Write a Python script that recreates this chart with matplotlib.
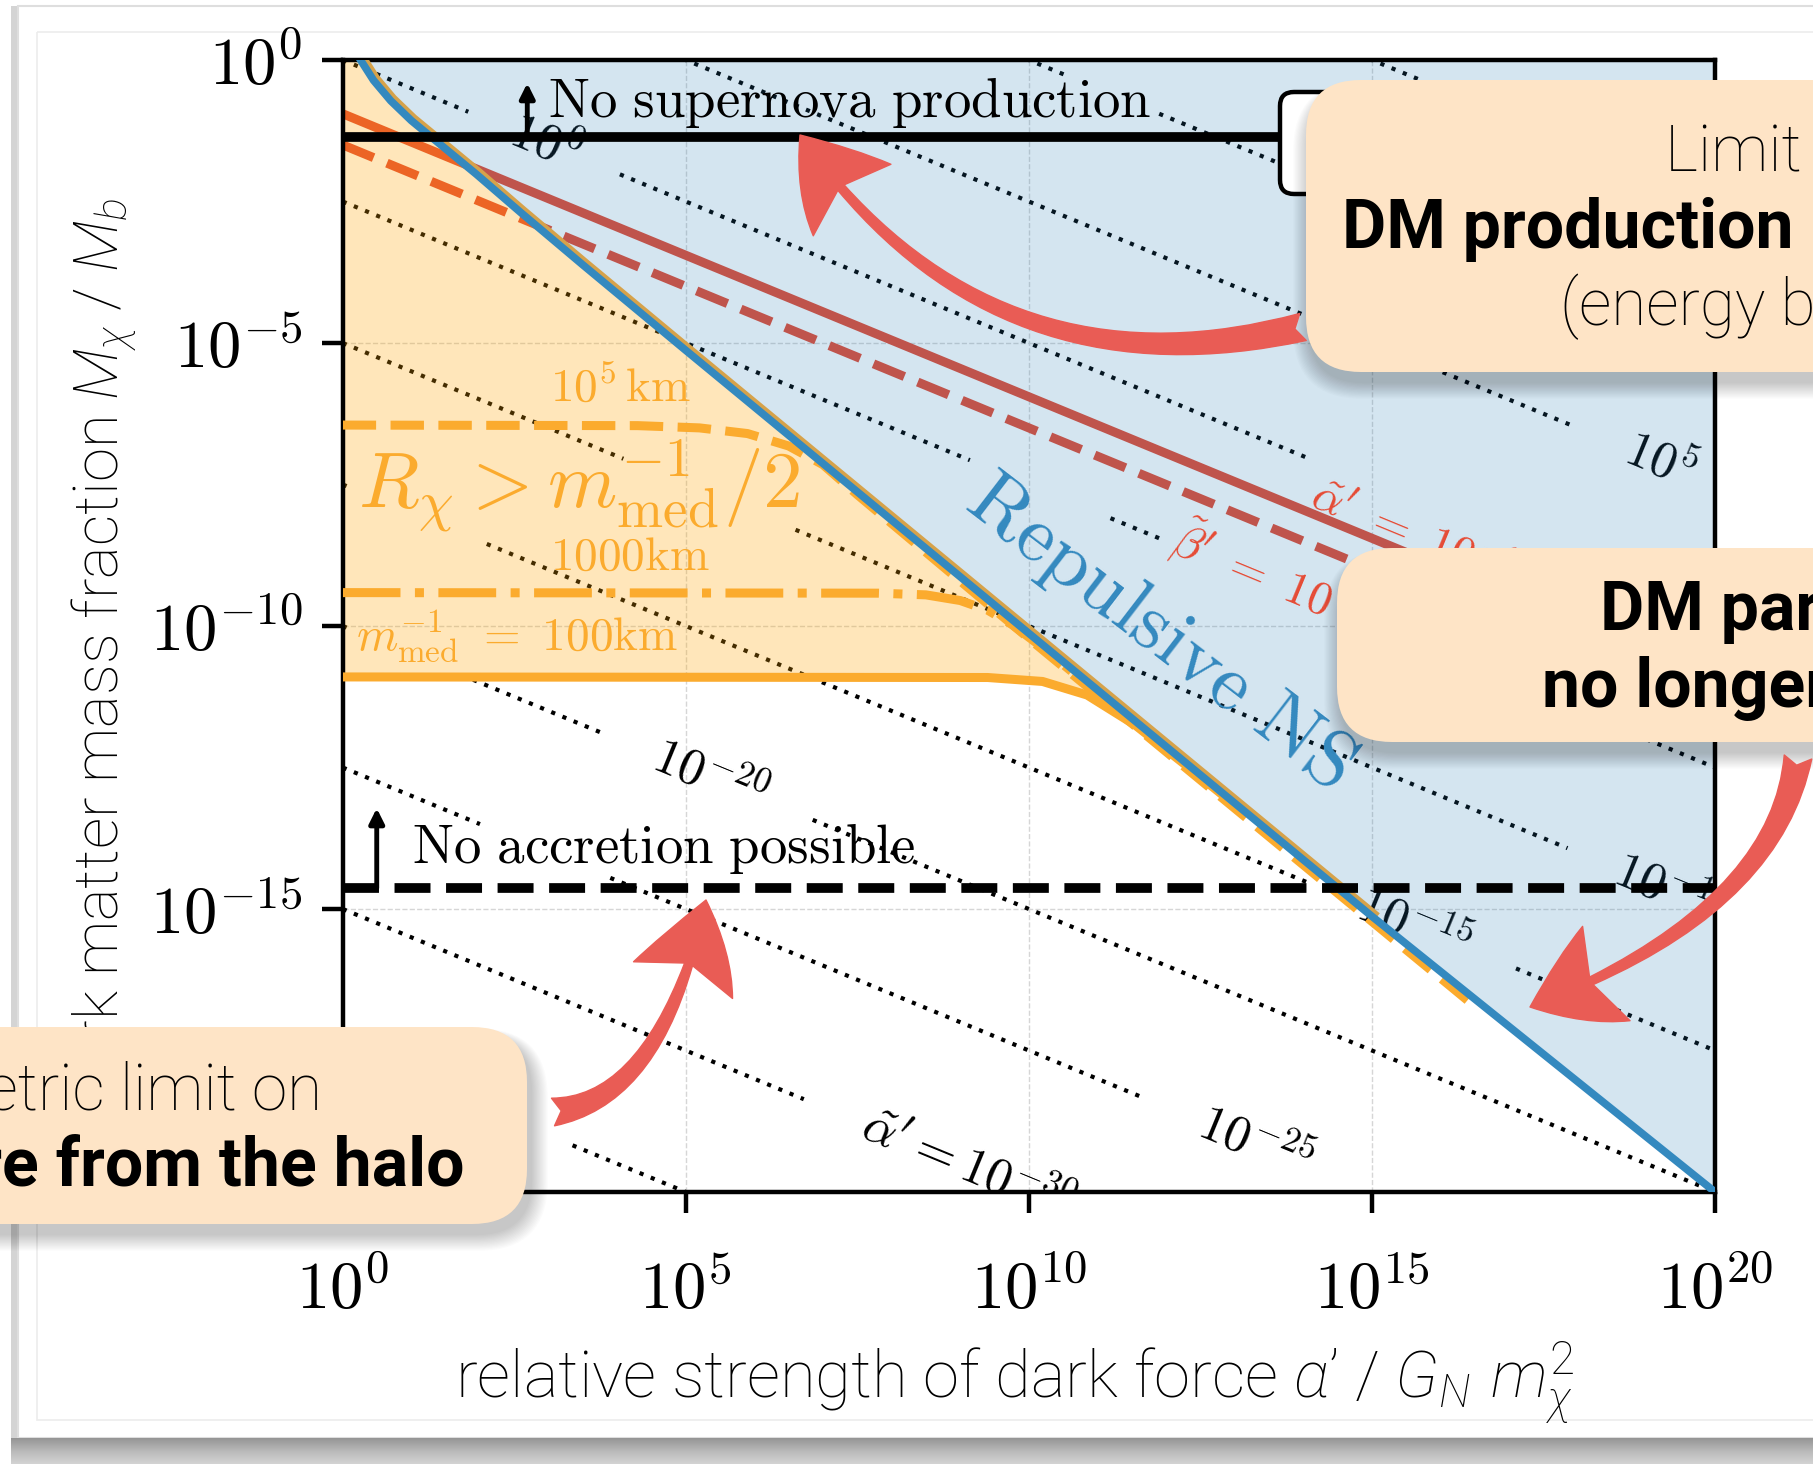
import numpy as np
import matplotlib
matplotlib.use('Agg')
import matplotlib.pyplot as plt
from matplotlib.patches import FancyBboxPatch, FancyArrowPatch, Rectangle, ArrowStyle
from matplotlib.path import Path
from matplotlib.ticker import FuncFormatter, NullLocator
import matplotlib.patheffects as pe

plt.rcParams['mathtext.fontset'] = 'cm'
plt.rcParams['mathtext.rm'] = 'Roboto:light'
plt.rcParams['mathtext.it'] = 'Roboto:italic:light'
plt.rcParams['mathtext.bf'] = 'Roboto:bold'
plt.rcParams['font.family'] = ['Roboto', 'DejaVu Sans']

W, H = 1813, 1464

# ---- values (log10 of x and y) ----
x_tick_exp = [0, 5, 10, 15, 20]
y_tick_exp = [0, -5, -10, -15, -20]

# repulsive NS boundary
blue_lx = [0.26, 0.45, 0.7, 1.0, 1.35, 1.95, 2.6, 3.5, 5.0, 10.0, 15.0, 20.0]
blue_ly = [0.0, -0.36, -0.72, -1.07, -1.42, -2.02, -2.7, -3.62, -5.13, -10.13, -15.13, -20.0]
tan_end = 11  # the orange-region edge follows the boundary down to ~1e15

# R_chi > m_med^-1/2 curves
km1e5_lx = [0.0, 4.3, 5.2, 5.9, 6.5, 7.0, 7.5, 10.0, 16.4]
km1e5_ly = [-6.45, -6.46, -6.5, -6.6, -6.82, -7.15, -7.68, -10.22, -16.62]
km1000_lx = [0.0, 7.8, 8.5, 9.0, 9.4, 9.75, 10.2, 12.0]
km1000_ly = [-9.41, -9.42, -9.45, -9.55, -9.72, -9.97, -10.38, -12.18]
km100_lx = [0.0, 9.4, 10.2, 10.85, 11.55, 12.3, 12.9]
km100_ly = [-10.9, -10.91, -10.98, -11.22, -11.75, -12.47, -13.06]

# supernova lines
red_alpha_lx = [0.0, 20.0]
red_alpha_ly = [-0.95, -10.95]
red_beta_lx = [0.0, 20.0]
red_beta_ly = [-1.5, -11.5]

supernova_ly = -1.355
accretion_ly = -14.63

# dotted alpha' contours: intercept at x=1, slope, and gaps (log x ranges)
dot_c = [7.5, 5.0, 2.5, 0.0, -2.5, -5.0, -7.5, -10.0, -12.5, -15.0, -17.5]
dot_slope = -0.5
dot_gaps = [[], [(10.6, 11.9)], [(17.9, 20.5)], [(1.83, 4.04), (14.1, 17.4)],
            [(9.14, 11.19), (11.96, 19.0)], [(4.09, 6.6), (17.85, 20.5)],
            [(0.1, 2.1), (14.1, 17.1)], [(0.1, 1.9), (3.8, 6.85)],
            [(2.0, 3.9), (11.65, 15.5)], [(6.72, 10.5)], [(0.0, 3.35)]]
dot_lab_c = [2.5, 0.0, -5.0, -7.5, -10.0, -12.5, -15.0]
dot_lab_lx = [19.2, 2.95, 19.35, 15.6, 5.35, 13.3, 9.1]
dot_lab_txt = [r'\mathit{10^{5}}', r'\mathit{10^{0}}', r'\mathit{10^{-10}}', r'\mathit{10^{-15}}',
               r'\mathit{10^{-20}}', r'\mathit{10^{-25}}', r"\tilde{\alpha}' = \mathit{10^{-30}}"]

# colours
c_blue = '#3489bf'
c_orange = '#fbab2e'
c_red = '#e54c34'
c_redtxt = '#e64b35'
c_peach = '#fee4c6'
c_arrow = '#e95c55'


def p10(v):
    return 10.0 ** np.asarray(v, dtype=float)


fig = plt.figure(figsize=(W / 100, H / 100), dpi=100)

# ---- card background ----
bg = fig.add_axes([0, 0, 1, 1], zorder=0)
bg.set_xlim(0, W)
bg.set_ylim(H, 0)
bg.axis('off')
bg.add_patch(Rectangle((0, 0), W, H, fc='white', ec='none', zorder=0.5))
bg.add_patch(Rectangle((11, 6), 7, 1432, fc='#d4d4d4', ec='none', zorder=1))
bg.add_patch(Rectangle((18, 6), W, 1432, fc='white', ec='#dedede', lw=1.5, zorder=1))
bg.add_patch(Rectangle((37, 32), W, 1388, fc='none', ec='#ececec', lw=1.2, zorder=1.5))
shade = np.linspace(0.5, 0.28, 30).reshape(-1, 1)
bg.imshow(shade, extent=(11, W, 1464, 1438), cmap='Greys', vmin=0, vmax=1,
          aspect='auto', origin='upper', zorder=2)

# ---- main axes ----
ax = fig.add_axes([342.7 / W, 1 - 1192 / H, (1715 - 342.7) / W, (1192 - 60) / H], zorder=2)
ax.set_xscale('log')
ax.set_yscale('log')
ax.set_xlim(1, 1e20)
ax.set_ylim(1e-20, 1)
ax.set_axisbelow(True)
ax.grid(True, which='major', color='#d6d6d6', ls='--', lw=1.0)

# dotted contours
for c, gaps in zip(dot_c, dot_gaps):
    edges = [0.0]
    for a, b in gaps:
        edges += [a, b]
    edges.append(20.0)
    for a, b in zip(edges[0::2], edges[1::2]):
        if b <= a:
            continue
        ax.plot(p10([a, b]), p10([c + dot_slope * a, c + dot_slope * b]),
                color='k', ls=(0, (1, 1.9)), lw=3.0, zorder=1)
for c, lx, txt in zip(dot_lab_c, dot_lab_lx, dot_lab_txt):
    ax.text(10 ** lx, 10 ** (c + dot_slope * lx), '$' + txt + '$', fontsize=37,
            rotation=-22.4, rotation_mode='anchor', ha='center', va='center',
            color='k', zorder=1, clip_on=True)

# supernova constraint lines (under the shaded regions)
ax.plot(p10(red_alpha_lx), p10(red_alpha_ly), color=c_red, lw=6.5, zorder=1.5,
        solid_capstyle='butt')
ax.plot(p10(red_beta_lx), p10(red_beta_ly), color=c_red, lw=6.5, ls='--', zorder=1.5)

# shaded regions
blue_pts = list(zip(blue_lx, blue_ly))
ax.fill(p10([p[0] for p in blue_pts] + [20.0]), p10([p[1] for p in blue_pts] + [0.0]),
        color='#1f77b4', alpha=0.19, lw=0, zorder=2)
join = 5
bl = [p for p in blue_pts if p[0] < km100_lx[join]]
orange_poly = [(0.0, 0.0)] + bl + list(zip(km100_lx[:join + 1], km100_ly[:join + 1]))[::-1]
ax.fill(p10([p[0] for p in orange_poly]), p10([p[1] for p in orange_poly]),
        color='#ffa500', alpha=0.27, lw=0, zorder=2)

# orange curves
ax.plot(p10(km1e5_lx), p10(km1e5_ly), color=c_orange, lw=6.5, ls='--', zorder=3)
ax.plot(p10(km1000_lx), p10(km1000_ly), color=c_orange, lw=6.5, ls='-.', zorder=3)
ax.plot(p10(km100_lx), p10(km100_ly), color=c_orange, lw=6.5, zorder=3)

# blue boundary with the thin tan edge of the orange region on its upper side
ax.plot(p10(blue_lx[:tan_end]), p10(blue_ly[:tan_end]), color='none', lw=5.5, zorder=3.5,
        path_effects=[pe.Stroke(linewidth=5.5, foreground='#d6a24a', offset=(1.8, 1.8))])
ax.plot(p10(blue_lx), p10(blue_ly), color=c_blue, lw=5.5, zorder=4)

# black limits
ax.axhline(10 ** supernova_ly, color='k', lw=7, zorder=5)
ax.axhline(10 ** accretion_ly, color='k', lw=7, ls='--', zorder=5)
ax.annotate('', xy=(10 ** 2.69, 10 ** -0.41), xytext=(10 ** 2.69, 10 ** supernova_ly),
            arrowprops=dict(arrowstyle='-|>', color='k', lw=3.5, mutation_scale=22,
                            shrinkA=0, shrinkB=0), zorder=5)
ax.annotate('', xy=(10 ** 0.496, 10 ** -13.22), xytext=(10 ** 0.496, 10 ** accretion_ly),
            arrowprops=dict(arrowstyle='-|>', color='k', lw=3.5, mutation_scale=22,
                            shrinkA=0, shrinkB=0), zorder=5)
ax.text(10 ** 2.99, 10 ** -1.0, r'$\mathrm{No\ supernova\ production}$', fontsize=39.5,
        ha='left', va='baseline', zorder=6)
ax.text(10 ** 1.005, 10 ** -14.19, r'$\mathrm{No\ accretion\ possible}$', fontsize=39.5,
        ha='left', va='baseline', zorder=6)

# orange labels
ax.text(10 ** 3.02, 10 ** -6.01, r'$10^5\,\mathrm{km}$', fontsize=34, color=c_orange,
        ha='left', va='baseline', zorder=6)
ax.text(10 ** 3.02, 10 ** -9.01, r'$1000\mathrm{km}$', fontsize=34, color=c_orange,
        ha='left', va='baseline', zorder=6)
ax.text(10 ** 0.2, 10 ** -10.42, r'$m_{\mathrm{med}}^{-1}\ =\ 100\mathrm{km}$', fontsize=34,
        color=c_orange, ha='left', va='baseline', zorder=6)
ax.text(10 ** 0.23, 10 ** -7.89, r'$R_\chi > m_{\mathrm{med}}^{-1}/2$', fontsize=57,
        color=c_orange, ha='left', va='baseline', zorder=6)
ax.text(10 ** 11.9, 10 ** -10.12, r'$\mathrm{Repulsive\ NS}$', fontsize=58, color=c_blue,
        rotation=-37.5, rotation_mode='anchor', ha='center', va='center', zorder=6)

# red labels
ax.text(10 ** 14.07, 10 ** -7.86, r"$\tilde{\alpha}'\ =\ 10^{-2}$", fontsize=34, color=c_redtxt,
        rotation=-22.4, rotation_mode='anchor', ha='left', va='baseline', zorder=6)
ax.text(10 ** 12.03, 10 ** -8.69, r"$\tilde{\beta}'\ =\ 10^{-3}$", fontsize=34, color=c_redtxt,
        rotation=-22.4, rotation_mode='anchor', ha='left', va='baseline', zorder=6)

# axes styling
ax.set_xticks(p10(x_tick_exp))
ax.set_yticks(p10(y_tick_exp))
ax.xaxis.set_minor_locator(NullLocator())
ax.yaxis.set_minor_locator(NullLocator())
fmt = FuncFormatter(lambda v, p: r'$10^{%d}$' % round(np.log10(v)))
ax.xaxis.set_major_formatter(fmt)
ax.yaxis.set_major_formatter(fmt)
ax.tick_params(which='major', direction='out', length=15, width=3.2, labelsize=48)
ax.tick_params(axis='x', pad=33)
ax.tick_params(axis='y', pad=14)
for s in ax.spines.values():
    s.set_linewidth(3.2)
ax.set_xlabel(r"relative strength of dark force $\alpha$’ / $G_N\ m_\chi^2$", fontsize=47,
              fontweight='light', math_fontfamily='custom')
ax.set_ylabel(r"dark matter mass fraction $M_\chi$ / $M_b$", fontsize=44.5,
              fontweight='light', math_fontfamily='custom')
ax.xaxis.set_label_coords(0.49, -0.13)
ax.yaxis.set_label_coords(-0.148, 0.477)

# ---- overlay: callouts and hand drawn arrows (pixel coordinates) ----
ov = fig.add_axes([0, 0, 1, 1], zorder=10)
ov.set_xlim(0, W)
ov.set_ylim(H, 0)
ov.axis('off')
ov.patch.set_alpha(0)

# legend-like box under the callout
ov.add_patch(FancyBboxPatch((1280, 92), 160, 102, boxstyle='round,pad=0,rounding_size=14',
                            fc='white', ec='k', lw=3.2, zorder=1))


def callout(x0, y0, x1, y1):
    for i in range(14, 0, -1):
        ov.add_patch(FancyBboxPatch((x0 + 4 - i * 1.2, y0 + 10 - i * 0.6), x1 - x0 + i * 2.4,
                                    y1 - y0 + i * 1.8,
                                    boxstyle='round,pad=0,rounding_size=%d' % (55 + i),
                                    fc='k', ec='none', alpha=0.016, zorder=3))
    ov.add_patch(FancyBboxPatch((x0, y0), x1 - x0, y1 - y0,
                                boxstyle='round,pad=0,rounding_size=55',
                                fc=c_peach, ec='none', zorder=4))


callout(1306, 80, W + 120, 372)
callout(1337, 548, W + 120, 742)
callout(-120, 1027, 527, 1224)

ov.text(1665, 171, 'Limit on', fontsize=46, fontweight='light', ha='left', va='baseline', zorder=5)
ov.text(1342, 248, 'DM production in SN', fontsize=49, fontweight='bold', ha='left',
        va='baseline', zorder=5)
ov.text(1560, 325, '(energy budget)', fontsize=46, fontweight='light', ha='left',
        va='baseline', zorder=5)
ov.text(1600, 630, 'DM particles', fontsize=49, fontweight='bold', ha='left', va='baseline',
        zorder=5)
ov.text(1542, 707, 'no longer bound', fontsize=49, fontweight='bold', ha='left',
        va='baseline', zorder=5)
ov.text(322, 1109, 'Geometric limit on', fontsize=46, fontweight='light', ha='right',
        va='baseline', zorder=5)
ov.text(465, 1186, 'capture from the halo', fontsize=49, fontweight='bold', ha='right',
        va='baseline', zorder=5)

arrow_style = ArrowStyle.Fancy(head_length=60, head_width=76, tail_width=20)
for (a, c, b) in [((1303, 327), (988, 403), (800, 135)),
                  ((553, 1112), (662, 1100), (706, 900)),
                  ((1798, 757), (1775, 913), (1530, 1007))]:
    path = Path([a, c, b], [Path.MOVETO, Path.CURVE3, Path.CURVE3])
    ov.add_patch(FancyArrowPatch(path=path, arrowstyle=arrow_style, mutation_scale=1,
                                 fc=c_arrow, ec=c_arrow, lw=1, transform=ov.transData,
                                 zorder=6))

fig.savefig('out.png', dpi=100)
